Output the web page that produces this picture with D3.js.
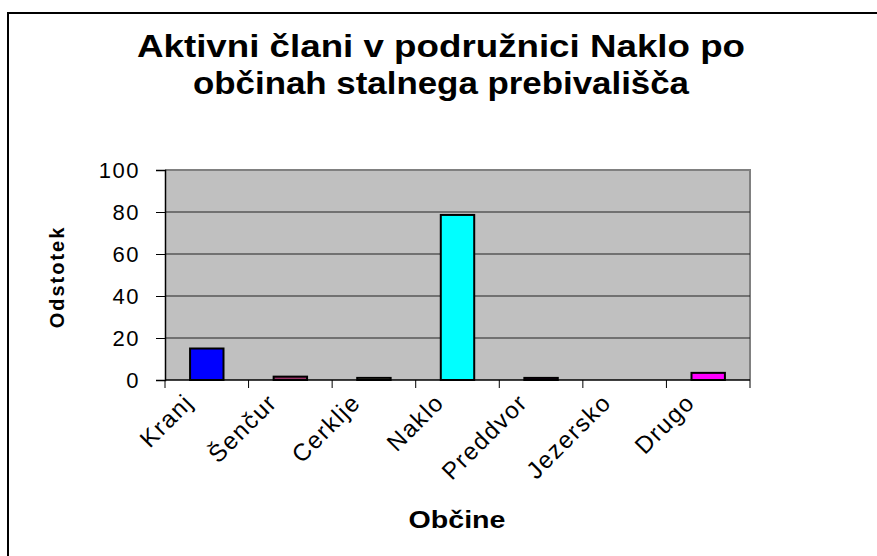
<!DOCTYPE html>
<html>
<head>
<meta charset="utf-8">
<script src="https://cdn.jsdelivr.net/npm/d3@7"></script>
<style>
    html, body { margin: 0; padding: 0; background: #fff; }
    svg { display: block; font-family: "Liberation Sans", Arial, sans-serif; }
</style>
</head>
<body>
<div id="chart"></div>
<script>
// values (percent)
const categories = ["Kranj", "Šenčur", "Cerklje", "Naklo", "Preddvor", "Jezersko", "Drugo"];
const percents = [15, 1.6, 1.0, 78.6, 1.0, 0, 3.4];
const barColors = ["#0000FF", "#993366", "#FFFFCC", "#00FFFF", "#660066", "#FF8080", "#FF00FF"];
const yTicks = [0, 20, 40, 60, 80, 100];
const titleLines = ["Aktivni člani v podružnici Naklo po", "občinah stalnega prebivališča"];

const width = 877, height = 556,
    margin = { top: 170, right: 127, bottom: 176, left: 165 },
    innerW = width - margin.left - margin.right,
    innerH = height - margin.top - margin.bottom;

const svg = d3.select("#chart").append("svg")
    .attr("width", width).attr("height", height);

// outer chart frame (runs off the right and bottom edge)
svg.append("rect")
    .attr("x", 8).attr("y", 13)
    .attr("width", width + 10).attr("height", height + 10)
    .attr("fill", "#fff").attr("stroke", "#000").attr("stroke-width", 2);

// title, the original is a bit wider than the font would give
const titleWidths = [608, 496];
svg.append("text")
    .attr("text-anchor", "middle")
    .attr("font-size", 32).attr("font-weight", "bold")
    .selectAll("tspan")
    .data(titleLines)
    .enter().append("tspan")
    .attr("x", 441)
    .attr("y", (d, i) => 57 + i * 37)
    .attr("textLength", (d, i) => titleWidths[i])
    .attr("lengthAdjust", "spacingAndGlyphs")
    .text(d => d);

const x = d3.scaleBand().domain(categories).range([0, innerW]).paddingInner(0).paddingOuter(0),
    y = d3.scaleLinear().domain([0, 100]).range([innerH, 0]);

const g = svg.append("g")
    .attr("transform", "translate(" + margin.left + "," + margin.top + ")");

// plot area
g.append("rect")
    .attr("width", innerW).attr("height", innerH)
    .attr("fill", "#C0C0C0");
g.append("path")
    .attr("d", "M0,0H" + innerW + "V" + innerH)
    .attr("fill", "none").attr("stroke", "#808080").attr("stroke-width", 2);

// gridlines
g.selectAll(".grid")
    .data(yTicks.filter(t => t > 0 && t < 100))
    .enter().append("line")
    .attr("class", "grid")
    .attr("x1", 0).attr("x2", innerW)
    .attr("y1", d => y(d)).attr("y2", d => y(d))
    .attr("stroke", "#222").attr("stroke-width", 1);

// bars
const barW = x.bandwidth() / 2.5;
g.selectAll(".bar")
    .data(categories)
    .enter().append("rect")
    .attr("class", "bar")
    .attr("x", d => x(d) + (x.bandwidth() - barW) / 2)
    .attr("y", (d, i) => y(percents[i]))
    .attr("width", barW)
    .attr("height", (d, i) => innerH - y(percents[i]))
    .attr("fill", (d, i) => barColors[i])
    .attr("stroke", "#000")
    .attr("stroke-width", (d, i) => percents[i] > 0 ? 2 : 0);

// y axis
const yAxis = g.append("g")
    .call(d3.axisLeft(y).tickValues(yTicks).tickSize(9).tickPadding(16));
yAxis.select(".domain").attr("stroke", "#000").attr("stroke-width", 1.5);
yAxis.selectAll(".tick line").attr("stroke", "#000");
yAxis.selectAll("text")
    .attr("font-family", "Liberation Sans, Arial, sans-serif")
    .attr("font-size", 22).attr("fill", "#000")
    .attr("letter-spacing", 1.5);

// x axis: ticks on band edges
const xAxis = g.append("g")
    .attr("transform", "translate(0," + innerH + ")");
xAxis.append("line")
    .attr("x1", 0).attr("x2", innerW)
    .attr("stroke", "#000").attr("stroke-width", 1.5);
xAxis.selectAll(".edge")
    .data(d3.range(categories.length + 1))
    .enter().append("line")
    .attr("class", "edge")
    .attr("x1", i => i * x.step()).attr("x2", i => i * x.step())
    .attr("y1", 0).attr("y2", 8)
    .attr("stroke", "#000");
xAxis.selectAll(".lbl")
    .data(categories)
    .enter().append("text")
    .attr("class", "lbl")
    .attr("text-anchor", "end")
    .attr("font-size", 24)
    .attr("letter-spacing", 1.5)
    .attr("transform", d => "translate(" + (x(d) + x.bandwidth() / 2 - 12) + ",24) rotate(-45)")
    .text(d => d);

// axis titles
svg.append("text")
    .attr("transform", "translate(64,277) rotate(-90)")
    .attr("text-anchor", "middle")
    .attr("font-size", 20).attr("font-weight", "bold")
    .attr("letter-spacing", 2)
    .text("Odstotek");

svg.append("text")
    .attr("x", 457).attr("y", 528)
    .attr("text-anchor", "middle")
    .attr("font-size", 23).attr("font-weight", "bold")
    .attr("textLength", 97)
    .attr("lengthAdjust", "spacingAndGlyphs")
    .text("Občine");
</script>
</body>
</html>
